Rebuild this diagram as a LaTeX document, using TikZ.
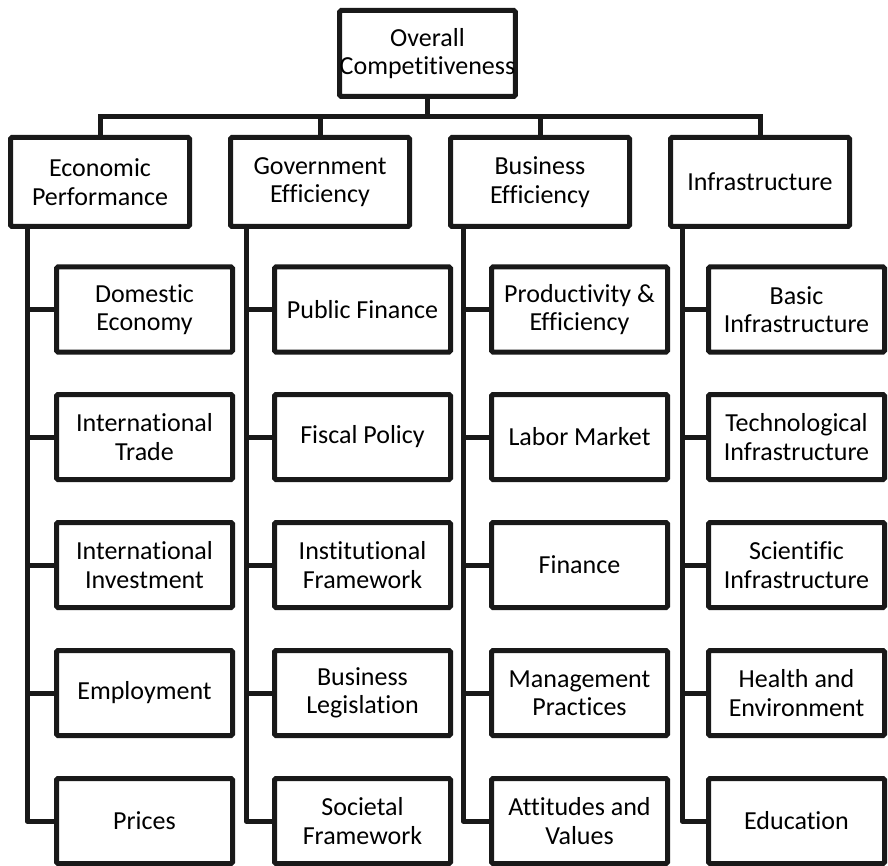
\documentclass[tikz,border=0pt]{standalone}
\usepackage{fontspec}
\setmainfont{Carlito}[Ligatures=CommonOff]
\begin{document}
\begin{tikzpicture}[x=1pt,y=-1pt,
  box/.style={draw=black!90,line width=5pt,rounded corners=1.5pt,fill=white,align=center,
    font=\fontsize{26}{28.5}\selectfont,inner sep=0pt},
  topbox/.style={box,minimum width=174pt,minimum height=86pt},
  catbox/.style={box,minimum width=179pt,minimum height=89pt},
  subbox/.style={box,minimum width=176pt,minimum height=85pt},
  link/.style={draw=black!90,line width=5pt}]
\useasboundingbox (0,0) rectangle (888,866);
\node[topbox] (top) at (427.5,53.5) {Overall\\Competitiveness};
\coordinate (bus) at (427.5,117);
\node[catbox] (c1) at (100,182) {Economic\\Performance};
\node[catbox] (c2) at (320,182) {Government\\Efficiency};
\node[catbox] (c3) at (540,182) {Business\\Efficiency};
\node[catbox] (c4) at (760,182) {Infrastructure};
\draw[link] (top.south) -- (bus);
\draw[link] (c1.north) |- (c4.north |- bus) -- (c4.north);
\draw[link] (c2.north) -- (c2.north |- bus);
\draw[link] (c3.north) -- (c3.north |- bus);
% column 1
\node[subbox] (a1) at (144.5,309.5) {Domestic\\Economy};
\node[subbox] (a2) at (144.5,437) {International\\Trade};
\node[subbox] (a3) at (144.5,565) {International\\Investment};
\node[subbox] (a4) at (144.5,693) {Employment};
\node[subbox] (a5) at (144.5,821) {Prices};
% column 2
\node[subbox] (b1) at (362.5,309.5) {Public Finance};
\node[subbox] (b2) at (362.5,437) {Fiscal Policy};
\node[subbox] (b3) at (362.5,565) {Institutional\\Framework};
\node[subbox] (b4) at (362.5,693) {Business\\Legislation};
\node[subbox] (b5) at (362.5,821) {Societal\\Framework};
% column 3
\node[subbox] (d1) at (579.5,309.5) {Productivity \&\\Efficiency};
\node[subbox] (d2) at (579.5,437) {Labor Market};
\node[subbox] (d3) at (579.5,565) {Finance};
\node[subbox] (d4) at (579.5,693) {Management\\Practices};
\node[subbox] (d5) at (579.5,821) {Attitudes and\\Values};
% column 4
\node[subbox] (e1) at (796.5,309.5) {Basic\\Infrastructure};
\node[subbox] (e2) at (796.5,437) {Technological\\Infrastructure};
\node[subbox] (e3) at (796.5,565) {Scientific\\Infrastructure};
\node[subbox] (e4) at (796.5,693) {Health and\\Environment};
\node[subbox] (e5) at (796.5,821) {Education};
% spines
\foreach \c/\s/\x in {c1/a/27,c2/b/246,c3/d/463,c4/e/682}{
  \coordinate (\s top) at (\x,228);
  \draw[link,line join=round] (\s top) |- (\s5.west);
  \foreach \i in {1,2,3,4}{
    \draw[link] (\s\i.west) -- (\s\i.west -| \s top);
  }
}
\end{tikzpicture}
\end{document}
